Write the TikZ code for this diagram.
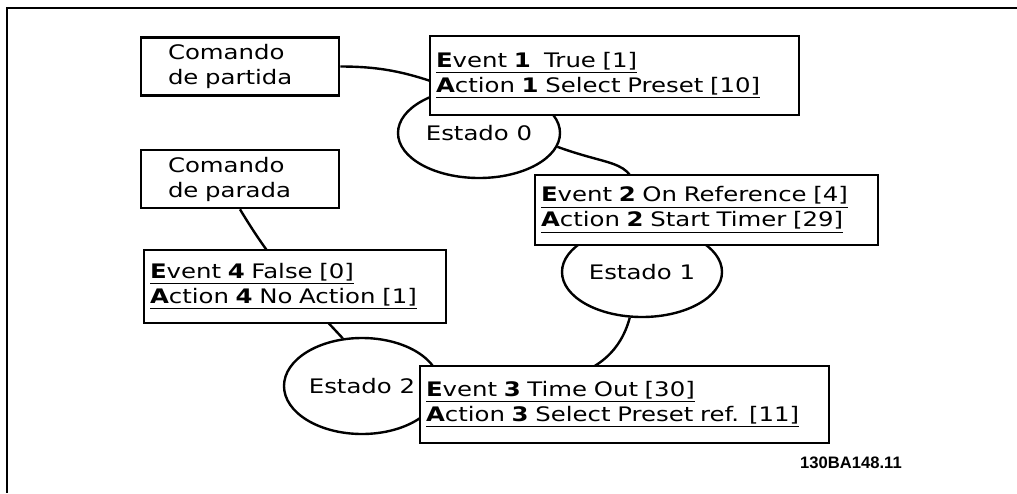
\documentclass[tikz,border=0pt]{standalone}
\usepackage{fontspec}
\newfontfamily\boxfont[FakeStretch=1.22]{DejaVu Sans}
\newfontfamily\codefont{Liberation Sans}
\usetikzlibrary{shapes.geometric}
\pgfdeclarelayer{bg}
\pgfsetlayers{bg,main}
\newcommand{\evact}[3]{\underline{\textbf{E}vent \textbf{#1} #2}\\\underline{\textbf{A}ction \textbf{#1} #3}}

\begin{document}
\begin{tikzpicture}[x=0.5pt, y=0.5pt,
    cmd/.style = {draw, fill=white, line width=1.3pt, align=left, inner xsep=13.5pt, text width=72pt, font=\boxfont\fontsize{10}{12.5}\selectfont},
    evt/.style = {draw, fill=white, line width=1.3pt, align=left, inner xsep=3pt, font=\boxfont\fontsize{10}{12.5}\selectfont},
    estado/.style = {draw, fill=white, ellipse, line width=1.2pt, inner sep=0pt, font=\boxfont\fontsize{10}{12.5}\selectfont},
    wire/.style = {line width=1.2pt}]
    \useasboundingbox (0,0) rectangle (1017,-493);
    \draw[line width=0.9pt] (1017,-8) -- (7,-8) -- (7,-493);

    \node[cmd, minimum height=28.5pt] (Cmd1) at (240,-66.5) {Comando\\de partida};
    \node[cmd, minimum height=29pt] (Cmd2) at (240,-179) {Comando\\de parada};

    \node[estado, minimum width=81pt, minimum height=45pt] (S0) at (479,-133) {Estado 0};
    \node[estado, minimum width=80pt, minimum height=45pt] (S1) at (642,-272) {Estado 1};
    \node[estado, minimum width=78pt, minimum height=48pt] (S2) at (362,-386) {Estado 2};

    \node[evt, text width=178.5pt, minimum height=39.5pt] (Ev1) at (614.5,-75.5) {\evact{1}{\ True [1]}{Select Preset [10]}};
    \node[evt, text width=165.5pt, minimum height=35pt] (Ev2) at (706.5,-210) {\evact{2}{On Reference [4]}{Start Timer [29]}};
    \node[evt, text width=145pt, minimum height=36.5pt] (Ev4) at (295,-286.5) {\evact{4}{False [0]}{No Action [1]}};
    \node[evt, text width=198.5pt, minimum height=38.5pt] (Ev3) at (624.5,-404.5) {\evact{3}{Time Out [30]}{Select Preset ref. [11]}};

    \node[font=\codefont\bfseries\fontsize{8.3}{10}\selectfont] (Code) at (851,-463) {130BA148.11};

    \begin{pgfonlayer}{bg}
    \path[wire] (Cmd1.east) edge[out=0, in=160] (S0.120);
    \path[wire] (S0.-10) edge[out=-20, in=95, looseness=1.6] (S1.north);
    \path[wire] (S1.-105) edge[out=-105, in=0] (S2.east);
    \path[wire] (Cmd2.south) edge[out=-59, in=133] (S2.112);
    \end{pgfonlayer}
\end{tikzpicture}
\end{document}
